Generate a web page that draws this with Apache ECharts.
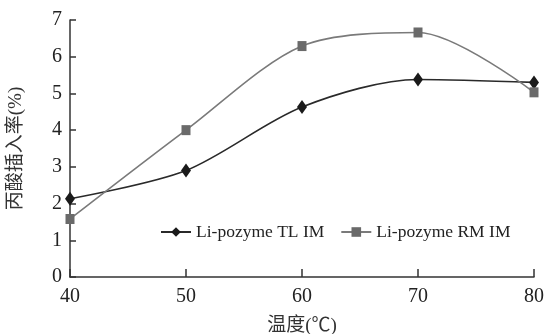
<!DOCTYPE html>
<html>
<head>
<meta charset="utf-8">
<script src="https://cdn.jsdelivr.net/npm/echarts@6/dist/echarts.min.js"></script>
<style>
  html, body { margin: 0; padding: 0; background: #fff; }
  #main { width: 544px; height: 334px; }
</style>
</head>
<body>
<div id="main"></div>
<script>
  // 温度 (℃)
  const temps = [40, 50, 60, 70, 80];
  // 丙酸插入率 (%)
  const tlIM = [2.13, 2.9, 4.63, 5.38, 5.3];
  const rmIM = [1.58, 4.0, 6.29, 6.66, 5.03];
  const yTicks = [0, 1, 2, 3, 4, 5, 6, 7];

  const serif = '"Liberation Serif", "DejaVu Serif", serif';
  const cjk = '"Liberation Serif", "Noto Sans CJK SC", serif';

  let chart = echarts.init(document.getElementById('main'));

  let option = {
    backgroundColor: '#fff',
    animation: false,
    grid: { left: 70, right: 10, top: 20, bottom: 57, outerBoundsMode: 'none' },
    legend: {
      left: 155,
      top: 218,
      itemWidth: 30,
      itemHeight: 12,
      itemGap: 16,
      textStyle: { fontFamily: serif, fontSize: 17.5, color: '#222' },
      data: ['Li-pozyme TL IM', 'Li-pozyme RM IM']
    },
    xAxis: {
      type: 'value',
      min: 40, max: 80, interval: 10,
      name: '温度(℃)',
      nameLocation: 'middle',
      nameGap: 40,
      nameTextStyle: { fontFamily: cjk, fontSize: 19, color: '#333' },
      axisLine: { lineStyle: { color: '#333', width: 1.5 } },
      axisTick: { inside: true, length: 8, lineStyle: { color: '#333', width: 1.5 } },
      axisLabel: { margin: 10, fontFamily: serif, fontSize: 20, color: '#222' },
      splitLine: { show: false }
    },
    yAxis: {
      type: 'value',
      min: yTicks[0], max: yTicks[yTicks.length - 1], interval: 1,
      name: '丙酸插入率(%)',
      nameLocation: 'middle',
      nameGap: 44,
      nameTextStyle: { fontFamily: cjk, fontSize: 19, color: '#333' },
      axisLine: { show: true, lineStyle: { color: '#333', width: 1.5 } },
      axisTick: { show: true, inside: true, length: 6, lineStyle: { color: '#333', width: 1.5 } },
      axisLabel: { margin: 8, fontFamily: serif, fontSize: 20, color: '#222' },
      splitLine: { show: false }
    },
    series: [
      {
        name: 'Li-pozyme TL IM',
        type: 'line',
        smooth: 0.3,
        data: temps.map((t, i) => [t, tlIM[i]]),
        symbol: 'diamond',
        symbolSize: [10, 14],
        itemStyle: { color: '#1a1a1a' },
        lineStyle: { color: '#2a2a2a', width: 1.6 }
      },
      {
        name: 'Li-pozyme RM IM',
        type: 'line',
        smooth: 0.3,
        data: temps.map((t, i) => [t, rmIM[i]]),
        symbol: 'rect',
        symbolSize: [9, 10],
        itemStyle: { color: '#6a6a6a' },
        lineStyle: { color: '#7a7a7a', width: 1.6 }
      }
    ]
  };

  chart.setOption(option);
</script>
</body>
</html>
